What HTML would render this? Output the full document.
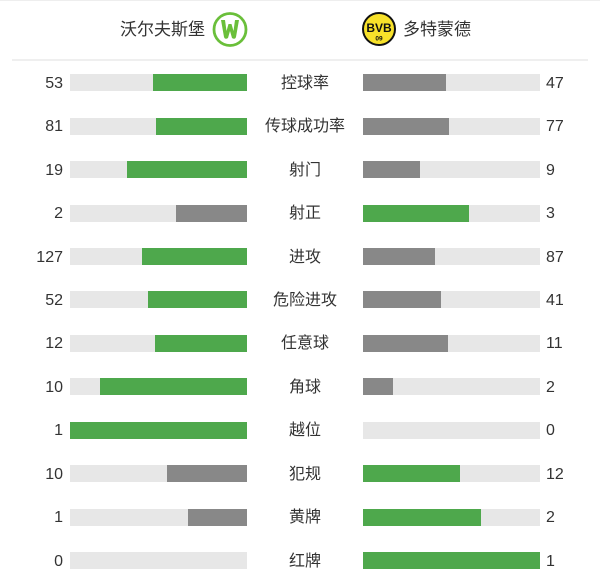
<!DOCTYPE html>
<html><head><meta charset="utf-8">
<style>
html,body{margin:0;padding:0;background:#fff;}
body{width:600px;height:582px;position:relative;overflow:hidden;font-family:"Liberation Sans","Noto Sans CJK SC",sans-serif;color:#333;}
.topline{position:absolute;left:0;top:0;width:600px;height:1px;background:#eeeeee;}
.sep{position:absolute;left:12px;top:59px;width:576px;height:2px;background:#efefef;}
.hname{position:absolute;top:18px;font-size:17px;line-height:22px;color:#333;}
.row{position:absolute;left:0;width:600px;height:17px;}
.track{position:absolute;top:0;height:17px;width:177px;background:#e7e7e7;}
.tl{left:70px;}
.tr{left:363px;}
.fill{position:absolute;top:0;height:17px;}
.g{background:#4ea84c;}
.k{background:#888888;}
.nl{position:absolute;right:537px;top:-1.5px;font-size:16px;line-height:21px;text-align:right;}
.nr{position:absolute;left:546px;top:-1.5px;font-size:16px;line-height:21px;}
.lab{position:absolute;left:205px;width:200px;top:-1.5px;text-align:center;font-size:16px;line-height:22px;}
</style></head><body>
<div class="topline"></div>
<div class="hname" style="left:120px;top:19px;">沃尔夫斯堡</div>
<svg style="position:absolute;left:211px;top:11px" width="38" height="38" viewBox="0 0 38 38">
<circle cx="19" cy="18.5" r="16" fill="none" stroke="#6abf3a" stroke-width="2.8"/>
<path d="M10 9 L13 26 Q14 29 17 27 L19 20 L21 27 Q24 29 25 26 L28 9 L24 9 L22.5 20 L20.5 13 L17.5 13 L15.5 20 L14 9 Z" fill="#6abf3a"/>
</svg>
<svg style="position:absolute;left:362px;top:12px" width="34" height="34" viewBox="0 0 34 34">
<circle cx="17" cy="17" r="16" fill="#f7e12a" stroke="#111" stroke-width="2"/>
<text x="17" y="20" text-anchor="middle" font-family="Liberation Sans" font-weight="bold" font-size="12" fill="#111">BVB</text>
<text x="17" y="28.5" text-anchor="middle" font-family="Liberation Sans" font-weight="bold" font-size="6.5" fill="#111">09</text>
</svg>
<div class="hname" style="left:403px;top:19px;">多特蒙德</div>
<div class="sep"></div>

<div class="row" style="top:74px"><div class="nl">53</div><div class="track tl"><div class="fill g" style="right:0;width:94px"></div></div><div class="lab">控球率</div><div class="track tr"><div class="fill k" style="left:0;width:83px"></div></div><div class="nr">47</div></div>
<div class="row" style="top:117.5px"><div class="nl">81</div><div class="track tl"><div class="fill g" style="right:0;width:91px"></div></div><div class="lab">传球成功率</div><div class="track tr"><div class="fill k" style="left:0;width:86px"></div></div><div class="nr">77</div></div>
<div class="row" style="top:161px"><div class="nl">19</div><div class="track tl"><div class="fill g" style="right:0;width:120px"></div></div><div class="lab">射门</div><div class="track tr"><div class="fill k" style="left:0;width:57px"></div></div><div class="nr">9</div></div>
<div class="row" style="top:204.5px"><div class="nl">2</div><div class="track tl"><div class="fill k" style="right:0;width:71px"></div></div><div class="lab">射正</div><div class="track tr"><div class="fill g" style="left:0;width:106px"></div></div><div class="nr">3</div></div>
<div class="row" style="top:248px"><div class="nl">127</div><div class="track tl"><div class="fill g" style="right:0;width:105px"></div></div><div class="lab">进攻</div><div class="track tr"><div class="fill k" style="left:0;width:72px"></div></div><div class="nr">87</div></div>
<div class="row" style="top:291px"><div class="nl">52</div><div class="track tl"><div class="fill g" style="right:0;width:99px"></div></div><div class="lab">危险进攻</div><div class="track tr"><div class="fill k" style="left:0;width:78px"></div></div><div class="nr">41</div></div>
<div class="row" style="top:334.5px"><div class="nl">12</div><div class="track tl"><div class="fill g" style="right:0;width:92px"></div></div><div class="lab">任意球</div><div class="track tr"><div class="fill k" style="left:0;width:85px"></div></div><div class="nr">11</div></div>
<div class="row" style="top:378px"><div class="nl">10</div><div class="track tl"><div class="fill g" style="right:0;width:147px"></div></div><div class="lab">角球</div><div class="track tr"><div class="fill k" style="left:0;width:30px"></div></div><div class="nr">2</div></div>
<div class="row" style="top:421.5px"><div class="nl">1</div><div class="track tl"><div class="fill g" style="right:0;width:177px"></div></div><div class="lab">越位</div><div class="track tr"></div><div class="nr">0</div></div>
<div class="row" style="top:465px"><div class="nl">10</div><div class="track tl"><div class="fill k" style="right:0;width:80px"></div></div><div class="lab">犯规</div><div class="track tr"><div class="fill g" style="left:0;width:97px"></div></div><div class="nr">12</div></div>
<div class="row" style="top:508.5px"><div class="nl">1</div><div class="track tl"><div class="fill k" style="right:0;width:59px"></div></div><div class="lab">黄牌</div><div class="track tr"><div class="fill g" style="left:0;width:118px"></div></div><div class="nr">2</div></div>
<div class="row" style="top:552px"><div class="nl">0</div><div class="track tl"></div><div class="lab">红牌</div><div class="track tr"><div class="fill g" style="left:0;width:177px"></div></div><div class="nr">1</div></div>
</body></html>
